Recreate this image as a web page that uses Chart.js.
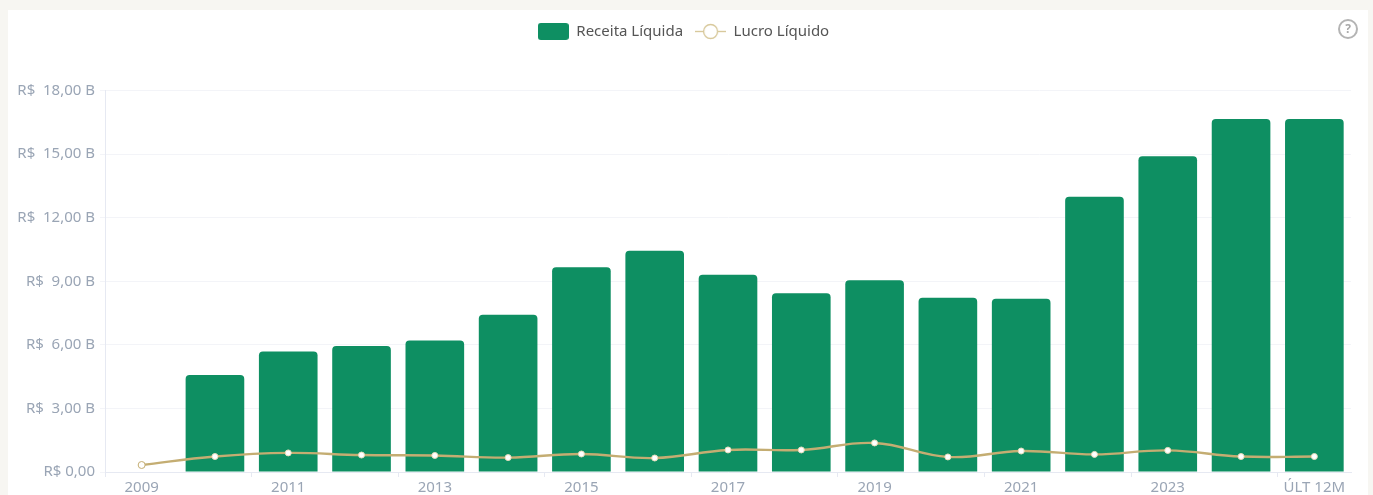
<!DOCTYPE html>
<html lang="pt-BR"><head><meta charset="utf-8">
<script src="https://cdn.jsdelivr.net/npm/chart.js@4"></script>
<style>
html,body{margin:0;padding:0;width:1373px;height:495px;overflow:hidden;background:#f7f6f2}
#card{position:absolute;left:8px;top:10px;width:1360px;height:485px;background:#fff}
#wrap{position:absolute;left:0;top:0;width:1373px;height:495px;filter:blur(.6px)}
canvas{position:absolute;left:0;top:0}
#help{position:absolute;left:1338px;top:19px;width:16px;height:16px;border:2px solid #b4b4b4;border-radius:50%;color:#a8a8a8;font:bold 12px/16px "Noto Sans",sans-serif;text-align:center}
</style></head><body>
<div id="card"></div>
<div id="wrap"><canvas id="c" width="1373" height="495"></canvas><div id="help">?</div></div>
<script>
const categories=["2009","2010","2011","2012","2013","2014","2015","2016","2017","2018","2019","2020","2021","2022","2023","2024","ÚLT 12M"];
const receita=[null,4.58,5.69,5.95,6.21,7.42,9.66,10.44,9.31,8.43,9.05,8.22,8.17,12.99,14.9,16.65,16.65];
const lucro=[0.33,0.73,0.9,0.8,0.78,0.68,0.85,0.66,1.04,1.04,1.37,0.71,0.99,0.83,1.02,0.73,0.73];
const yTicks=[0,3,6,9,12,15,18];
const seriesNames=["Receita Líquida","Lucro Líquido"];
const GREEN="#0e8f62",GOLD="#c4ad72",FONT='"Noto Sans",sans-serif';

function legendBar(){const c=document.createElement('canvas');c.width=31;c.height=17;const x=c.getContext('2d');
 x.fillStyle=GREEN;x.beginPath();x.roundRect(0,0,31,17,3);x.fill();return c;}
function legendLine(){const c=document.createElement('canvas');c.width=31;c.height=17;const x=c.getContext('2d');
 x.strokeStyle='#d8c99c';x.lineWidth=1.4;x.beginPath();x.moveTo(0,8.5);x.lineTo(31,8.5);x.stroke();
 x.fillStyle='#fff';x.beginPath();x.arc(15.5,8.5,7,0,Math.PI*2);x.fill();x.stroke();return c;}
const icons=[legendBar(),legendLine()];

const legendGap={id:'legendGap',beforeInit(chart){const l=chart.legend,f=l.fit;l.fit=function(){f.call(this);this.height+=41.5;};}};

new Chart(document.getElementById('c'),{
 plugins:[legendGap],
 data:{labels:categories,datasets:[
  {type:'line',label:seriesNames[1],data:lucro,order:0,borderColor:GOLD,borderWidth:2.4,tension:.4,
   pointRadius:c=>c.dataIndex===0?3.5:3,pointBackgroundColor:'#fff',pointBorderColor:c=>c.dataIndex===0?GOLD:'#e6dcbc',pointBorderWidth:1},
  {type:'bar',label:seriesNames[0],data:receita,order:1,backgroundColor:GREEN,barPercentage:.8,categoryPercentage:1,
   borderRadius:{topLeft:4,topRight:4,bottomLeft:0,bottomRight:0},borderSkipped:'bottom'}
 ]},
 options:{responsive:false,animation:false,
  layout:{padding:{left:16,right:22,top:12,bottom:0}},
  plugins:{tooltip:{enabled:false},
   legend:{position:'top',labels:{usePointStyle:true,pointStyleWidth:31,boxHeight:17,padding:12,color:'#555',font:{family:FONT,size:15},
    generateLabels:()=>seriesNames.map((n,i)=>({text:n,pointStyle:icons[i],fontColor:'#555',lineWidth:0,strokeStyle:'transparent',fillStyle:'transparent',datasetIndex:1-i}))}}},
  scales:{
   x:{offset:true,border:{color:'#e6e9f2'},
    grid:{display:true,drawOnChartArea:false,tickLength:5,tickColor:c=>c.index%2===0?'#e6e9f2':'transparent',offset:true},
    ticks:{autoSkip:false,maxRotation:0,padding:2,color:'#9aa5b5',font:{family:FONT,size:15},
     callback(v,i){return i%2===0?categories[i]:'';}},
    afterFit(s){s.height=23;}},
   y:{min:0,max:18,border:{color:'#e6e9f2'},grid:{color:'#f3f4f8',tickLength:5},
    afterBuildTicks(s){s.ticks=yTicks.map(v=>({value:v}));},
    ticks:{padding:5,color:'#9aa5b5',font:{family:FONT,size:15},
     callback(v){const t=v.toFixed(2).replace('.',',');return v===0?'R$ '+t:'R$  '+t+' B';}},
    afterFit(s){s.width=89;}}
  }}
});
</script></body></html>
